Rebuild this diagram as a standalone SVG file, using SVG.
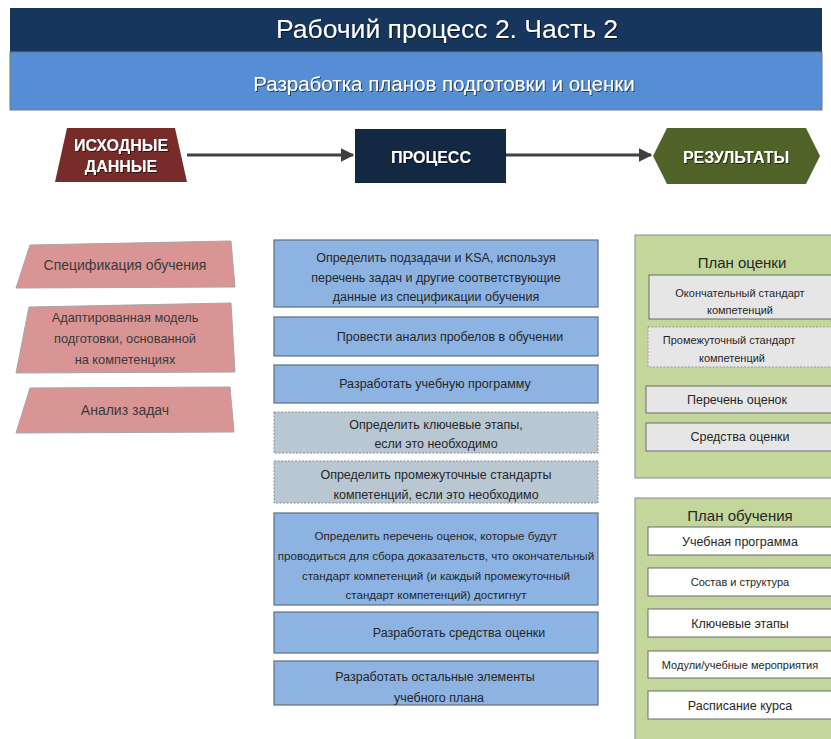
<svg xmlns="http://www.w3.org/2000/svg" width="831" height="739" viewBox="0 0 831 739">
<style>
text{font-family:"Liberation Sans",Arial,sans-serif;text-anchor:middle;dominant-baseline:central}
.hdr{fill:#ffffff;filter:url(#sh)}
.inp{fill:#d99594;stroke:#a6a6a6;stroke-width:1}
.inpt{fill:#3a3a3a;font-size:14px}
.inps{fill:#3a3a3a;font-size:12.8px}
.proc{fill:#8db3e2;stroke:#5f6f80;stroke-width:1.2}
.opt{fill:#b9c7d3;stroke:#8a8a8a;stroke-width:1;stroke-dasharray:2 1.5}
.pt{fill:#262626;font-size:12.5px}
.pts{fill:#262626;font-size:11.6px}
.panel{fill:#c3d69b;stroke:#8c8c8c;stroke-width:1}
.ptitle{fill:#262626;font-size:15px}
.gbox{fill:#e6e6e6;stroke:#6b6b6b;stroke-width:1}
.gopt{fill:#e6e6e6;stroke:#9a9a9a;stroke-width:1;stroke-dasharray:2 1.5}
.wbox{fill:#ffffff;stroke:#6b6b6b;stroke-width:1}
.rt{fill:#262626;font-size:12.5px}
.rts{fill:#262626;font-size:11px}
.conn{stroke:#404040;stroke-width:3;fill:none;marker-end:url(#ah)}
</style>
<defs>
<filter id="sh" x="-10%" y="-30%" width="120%" height="160%">
<feDropShadow dx="1" dy="1" stdDeviation="0.6" flood-color="#000000" flood-opacity="0.6"/>
</filter>
<marker id="ah" viewBox="0 0 10 10" refX="9" refY="5" markerWidth="4.5" markerHeight="5" markerUnits="strokeWidth" orient="auto">
<path d="M0,0 L10,5 L0,10 Z" fill="#404040"/>
</marker>
</defs>
<rect width="831" height="739" fill="#ffffff"/>

<g id="header">
<rect x="10" y="8" width="812" height="44" fill="#17365d"/>
<rect x="10" y="52" width="812" height="58" fill="#558ed5" stroke="#6c7a8a" stroke-width="1"/>
<text class="hdr" x="447" y="29" font-size="26.5">Рабочий процесс 2. Часть 2</text>
<text class="hdr" x="444" y="83" font-size="20.5">Разработка планов подготовки и оценки</text>
</g>

<g id="connectors">
<line class="conn" x1="187" y1="155" x2="353" y2="155"/>
<line class="conn" x1="506" y1="155" x2="651" y2="155"/>
</g>

<g id="inputs-head">
<polygon points="67,128 175,128 187,182 55,182" fill="#772c2a"/>
<text class="hdr" x="121" y="145" font-size="16" font-weight="bold">ИСХОДНЫЕ</text>
<text class="hdr" x="121" y="166" font-size="16" font-weight="bold">ДАННЫЕ</text>
</g>
<g id="process-head">
<rect x="355" y="129" width="151" height="54" fill="#132843"/>
<text class="hdr" x="431" y="157" font-size="16" font-weight="bold">ПРОЦЕСС</text>
</g>
<g id="results-head">
<polygon points="653,156 667,128 806,128 820,156 806,184 667,184" fill="#4f6228"/>
<text class="hdr" x="736" y="157" font-size="16" font-weight="bold">РЕЗУЛЬТАТЫ</text>
</g>

<g id="in1">
<polygon class="inp" points="30,245 231,241 235,287 16,288"/>
<text class="inpt" x="125" y="265">Спецификация обучения</text>
</g>
<g id="in2">
<polygon class="inp" points="29,307 231,303 235,372 16,373"/>
<text class="inps" x="125" y="317">Адаптированная модель</text>
<text class="inps" x="125" y="338">подготовки, основанной</text>
<text class="inps" x="125" y="359">на компетенциях</text>
</g>
<g id="in3">
<polygon class="inp" points="30,388 230,387 234,432 16,433"/>
<text class="inpt" x="125" y="410">Анализ задач</text>
</g>

<g id="p1">
<rect class="proc" x="274" y="240" width="324" height="67"/>
<text class="pt" x="436" y="258">Определить подзадачи и KSA, используя</text>
<text class="pt" x="436" y="278">перечень задач и другие соответствующие</text>
<text class="pt" x="436" y="297">данные из спецификации обучения</text>
</g>
<g id="p2">
<rect class="proc" x="274" y="317" width="324" height="39"/>
<text class="pt" x="450" y="337">Провести анализ пробелов в обучении</text>
</g>
<g id="p3">
<rect class="proc" x="274" y="365" width="324" height="38"/>
<text class="pt" x="435" y="384">Разработать учебную программу</text>
</g>
<g id="p4">
<rect class="opt" x="274" y="412" width="324" height="41"/>
<text class="pt" x="436" y="425">Определить ключевые этапы,</text>
<text class="pt" x="436" y="444">если это необходимо</text>
</g>
<g id="p5">
<rect class="opt" x="274" y="461" width="324" height="42"/>
<text class="pt" x="436" y="475">Определить промежуточные стандарты</text>
<text class="pt" x="436" y="495">компетенций, если это необходимо</text>
</g>
<g id="p6">
<rect class="proc" x="274" y="513" width="324" height="92"/>
<text class="pts" x="436" y="535">Определить перечень оценок, которые будут</text>
<text class="pts" x="436" y="555">проводиться для сбора доказательств, что окончательный</text>
<text class="pts" x="436" y="575">стандарт компетенций (и каждый промежуточный</text>
<text class="pts" x="436" y="594">стандарт компетенций) достигнут</text>
</g>
<g id="p7">
<rect class="proc" x="274" y="612" width="324" height="41"/>
<text class="pt" x="459" y="633">Разработать средства оценки</text>
</g>
<g id="p8">
<rect class="proc" x="274" y="661" width="324" height="44"/>
<text class="pt" x="435" y="677">Разработать остальные элементы</text>
<text class="pt" x="439" y="698">учебного плана</text>
</g>

<g id="assessment-plan">
<rect class="panel" x="635" y="235" width="200" height="243"/>
<text class="ptitle" x="742" y="262">План оценки</text>
<g id="a1">
<rect class="gbox" x="649" y="275" width="190" height="44"/>
<text class="rts" x="740" y="293">Окончательный стандарт</text>
<text class="rts" x="740" y="310">компетенций</text>
</g>
<g id="a2">
<rect class="gopt" x="648" y="327" width="190" height="40"/>
<text class="rts" x="729" y="340">Промежуточный стандарт</text>
<text class="rts" x="732" y="358">компетенций</text>
</g>
<g id="a3">
<rect class="gbox" x="646" y="386" width="190" height="27"/>
<text class="rt" x="737" y="400">Перечень оценок</text>
</g>
<g id="a4">
<rect class="gbox" x="646" y="423" width="190" height="28"/>
<text class="rt" x="740" y="437">Средства оценки</text>
</g>
</g>

<g id="training-plan">
<rect class="panel" x="635" y="498" width="200" height="250"/>
<text class="ptitle" x="740" y="515">План обучения</text>
<g id="t1">
<rect class="wbox" x="648" y="527" width="190" height="28"/>
<text class="rt" x="740" y="542">Учебная программа</text>
</g>
<g id="t2">
<rect class="wbox" x="648" y="568" width="190" height="28"/>
<text class="rts" x="740" y="582">Состав и структура</text>
</g>
<g id="t3">
<rect class="wbox" x="648" y="609" width="190" height="28"/>
<text class="rt" x="740" y="624">Ключевые этапы</text>
</g>
<g id="t4">
<rect class="wbox" x="648" y="651" width="190" height="27"/>
<text class="rts" x="740" y="665">Модули/учебные мероприятия</text>
</g>
<g id="t5">
<rect class="wbox" x="648" y="691" width="190" height="28"/>
<text class="rt" x="740" y="706">Расписание курса</text>
</g>
</g>
</svg>
